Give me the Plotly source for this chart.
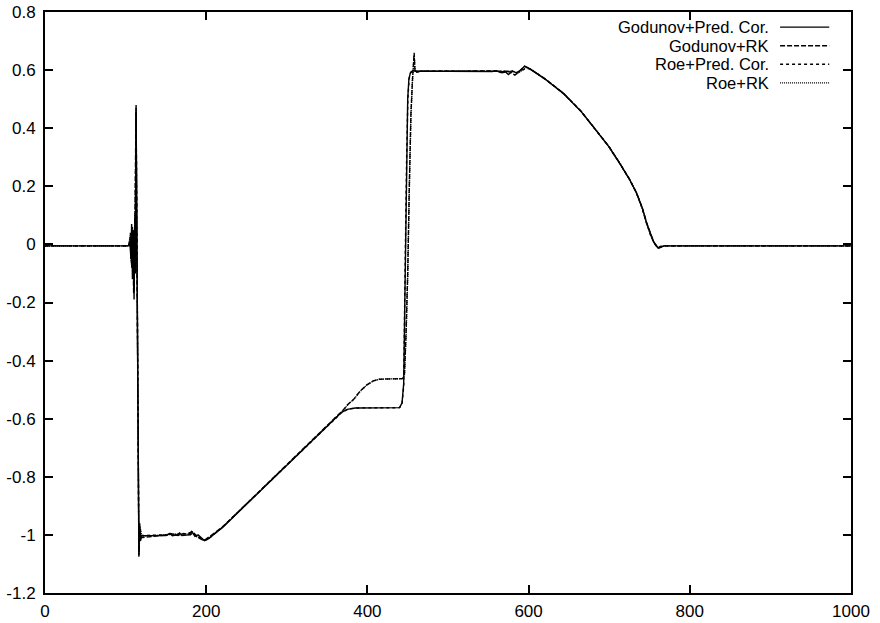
import plotly.graph_objects as go

# Velocity profiles along the domain for four flux/time-integration combinations.
# Pred. Cor. runs: sharper plateau ahead of the contact (-0.56 level)
gpc_x = [0, 104, 105.5, 106.5, 107.5, 108.5, 109.5, 110.5, 111.5, 112.3, 113, 114, 116.5, 117.5,
         118.5, 120, 150, 155, 158, 164, 167, 170, 178, 182, 186, 190, 194, 198, 202, 210,
         220, 260, 300, 340, 360, 368, 375, 385, 440, 443, 445, 446, 447, 448.5, 450, 451.5,
         453.5, 456, 460, 500, 555, 560, 565, 570, 575, 580, 585, 590, 595, 600, 602, 620,
         643, 665, 685, 700, 713, 725, 734, 741, 746.5, 751, 755, 758, 761, 764, 768, 1000]
gpc_y = [-0.005, -0.005, 0.01, -0.05, 0.07, -0.12, 0.05, -0.19, 0.1, -0.1, 0.48, 0.1, -1.075, -0.96,
         -1.02, -1.003, -1.002, -0.995, -1.003, -1.0, -0.993, -1.002, -1.0, -0.988, -1.005, -1.0, -1.01, -1.02, -1.015, -0.998,
         -0.975, -0.868, -0.76, -0.654, -0.6, -0.578, -0.568, -0.563, -0.562, -0.545, -0.48, -0.3, 0.0, 0.3, 0.5, 0.57,
         0.592, 0.598, 0.596, 0.596, 0.595, 0.598, 0.592, 0.597, 0.585, 0.597, 0.59, 0.6, 0.613, 0.607, 0.603, 0.57,
         0.52, 0.458, 0.388, 0.335, 0.279, 0.225, 0.176, 0.125, 0.073, 0.035, 0.009, -0.005, -0.013, -0.01, -0.005, -0.005]

rpc_x = [0, 104, 106, 107.5, 109, 110.5, 112, 113, 114, 116.5, 118, 120, 150, 160, 168, 176,
         183, 188, 193, 198, 203, 210, 220, 260, 300, 340, 360, 368, 376, 386, 440, 443,
         445, 446.2, 447.2, 448.7, 450.2, 451.7, 453.7, 456, 460, 500, 555, 562, 570, 578,
         586, 592, 597, 602, 620, 643, 665, 685, 700, 713, 725, 734, 741, 746.5, 751, 755,
         758, 761, 765, 770, 1000]
rpc_y = [-0.005, -0.005, 0.03, -0.08, 0.04, -0.15, 0.06, 0.46, 0.05, -1.06, -0.98, -1.002, -1.0, -0.997, -1.0, -0.996,
         -0.99, -1.003, -1.012, -1.018, -1.013, -0.997, -0.974, -0.867, -0.759, -0.653, -0.6, -0.579, -0.567, -0.563, -0.562, -0.547,
         -0.49, -0.3, 0.0, 0.3, 0.5, 0.57, 0.591, 0.597, 0.596, 0.596, 0.595, 0.596, 0.594, 0.596,
         0.592, 0.599, 0.606, 0.604, 0.57, 0.52, 0.458, 0.388, 0.335, 0.279, 0.225, 0.176, 0.124, 0.072, 0.034, 0.01,
         -0.002, -0.008, -0.007, -0.005, -0.005]

# RK runs: smeared contact, plateau at -0.46 and overshoot at the shock
grk_x = [0, 104, 105.5, 107, 108.5, 110, 111.5, 113, 114, 116.5, 117.5, 119, 150, 157, 165,
         172, 180, 184, 188, 193, 197, 201, 210, 220, 260, 300, 340, 360, 370, 376, 383,
         391, 399, 407, 415, 444, 446, 448, 450, 452, 454, 456, 457, 458, 459, 461, 465,
         500, 555, 560, 567, 575, 583, 589, 595, 600, 603, 620, 643, 665, 685, 700, 713,
         725, 734, 741, 746.5, 751, 755, 758, 761, 764, 768, 1000]
grk_y = [-0.005, -0.005, 0.02, -0.06, 0.06, -0.17, 0.08, 0.47, 0.0, -1.07, -0.97, -1.01, -1.0, -0.996, -1.002,
         -0.995, -1.0, -0.992, -1.006, -1.015, -1.02, -1.012, -0.995, -0.973, -0.866, -0.758, -0.652, -0.598, -0.57, -0.55, -0.533,
         -0.505, -0.484, -0.47, -0.464, -0.462, -0.445, -0.3, -0.1, 0.2, 0.45, 0.57, 0.62, 0.66, 0.6, 0.592, 0.596,
         0.596, 0.595, 0.597, 0.591, 0.596, 0.583, 0.596, 0.614, 0.608, 0.602, 0.571, 0.521, 0.459, 0.389, 0.336, 0.28,
         0.226, 0.177, 0.126, 0.074, 0.036, 0.01, -0.004, -0.012, -0.009, -0.005, -0.005]

rrk_x = [0, 104, 106, 107.5, 109, 110.5, 112, 113, 114, 116.5, 118, 120, 150, 162, 170,
         178, 183, 188, 193, 198, 203, 210, 220, 260, 300, 340, 360, 370, 376, 383,
         391, 399, 407, 415, 444, 446, 448, 450, 452, 454, 456, 457, 458, 459, 461, 465,
         500, 555, 563, 572, 580, 587, 593, 598, 603, 620, 643, 665, 685, 700, 713,
         725, 734, 741, 746.5, 751, 755, 758, 761, 765, 770, 1000]
rrk_y = [-0.005, -0.005, 0.04, -0.07, 0.05, -0.16, 0.07, 0.45, 0.02, -1.065, -0.975, -1.004, -1.0, -0.997, -1.001,
         -0.996, -0.99, -1.004, -1.013, -1.019, -1.014, -0.996, -0.974, -0.867, -0.759, -0.653, -0.599, -0.571, -0.551, -0.534,
         -0.506, -0.485, -0.471, -0.464, -0.462, -0.447, -0.31, -0.11, 0.19, 0.44, 0.57, 0.61, 0.65, 0.6, 0.593, 0.596,
         0.596, 0.595, 0.596, 0.593, 0.597, 0.59, 0.6, 0.61, 0.603, 0.57, 0.52, 0.458, 0.388, 0.335, 0.279,
         0.225, 0.176, 0.124, 0.072, 0.034, 0.01, -0.002, -0.009, -0.007, -0.005, -0.005]

series_names = ["Godunov+Pred. Cor.", "Godunov+RK", "Roe+Pred. Cor.", "Roe+RK"]
series_dash = ["solid", "5px,2px", "3px,3px", "1px,1px"]
series_x = [gpc_x, grk_x, rpc_x, rrk_x]
series_y = [gpc_y, grk_y, rpc_y, rrk_y]

x_tick_vals = [0, 200, 400, 600, 800, 1000]
x_tick_text = ["0", "200", "400", "600", "800", "1000"]
y_tick_vals = [-1.2, -1.0, -0.8, -0.6, -0.4, -0.2, 0.0, 0.2, 0.4, 0.6, 0.8]
y_tick_text = ["-1.2", "-1", "-0.8", "-0.6", "-0.4", "-0.2", "0", "0.2", "0.4", "0.6", "0.8"]

FONT = "Liberation Sans, Arial, Helvetica, sans-serif"

fig = go.Figure()
for name, dash, xs, ys in zip(series_names, series_dash, series_x, series_y):
    fig.add_trace(go.Scatter(x=xs, y=ys, mode="lines", name=name,
                             line=dict(color="black", width=1.4, dash=dash),
                             showlegend=False))

# Key in the upper-right corner: label text followed by a line sample
row_y = [0.974, 0.942, 0.910, 0.878]
for name, dash, yy in zip(series_names, series_dash, row_y):
    fig.add_annotation(xref="paper", yref="paper", x=0.899, y=yy, text=name,
                       showarrow=False, xanchor="right", yanchor="middle",
                       borderpad=0,
                       font=dict(family=FONT, size=16.5, color="black"))
    fig.add_shape(type="line", xref="paper", yref="paper", x0=0.912, x1=0.973,
                  y0=yy, y1=yy, line=dict(color="black", width=1.4, dash=dash))

axis_common = dict(showline=True, linecolor="black", linewidth=2, mirror="ticks",
                   ticks="inside", ticklen=8, tickwidth=1.5, tickcolor="black",
                   showgrid=False, zeroline=False, automargin=False,
                   tickfont=dict(family=FONT, size=17, color="black"))

fig.update_xaxes(range=[0, 1000], tickvals=x_tick_vals, ticktext=x_tick_text,
                 ticklabelstandoff=2, **axis_common)
fig.update_yaxes(range=[-1.2, 0.8], tickvals=y_tick_vals, ticktext=y_tick_text,
                 ticklabelstandoff=4, **axis_common)

fig.update_layout(width=880, height=623, paper_bgcolor="white", plot_bgcolor="white",
                  margin=dict(l=45, r=29, t=12, b=30, autoexpand=False),
                  font=dict(family=FONT, size=17, color="black"))

fig.write_html("out.html")
